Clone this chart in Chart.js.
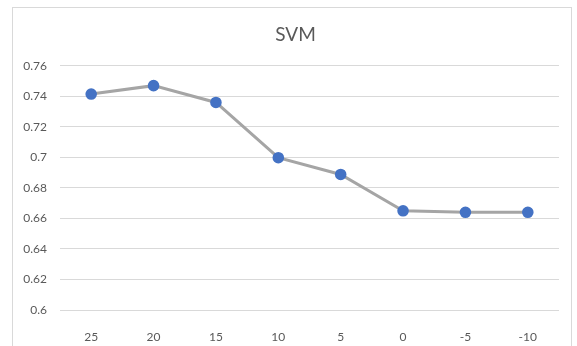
<!DOCTYPE html>
<html>
<head>
<meta charset="utf-8">
<script src="https://cdn.jsdelivr.net/npm/chart.js@4.4.1/dist/chart.umd.min.js"></script>
<style>
  html, body { margin: 0; padding: 0; background: #fff; }
  #wrap { position: relative; width: 577px; height: 346px; }
  #frame { position: absolute; left: 12px; top: 7px; width: 560px; height: 345px; border: 1px solid #d9d9d9; box-sizing: border-box; pointer-events: none; }
  canvas { position: absolute; left: 0; top: 0; }
</style>
</head>
<body>
<div id="wrap">
  <canvas id="c" width="577" height="346"></canvas>
  <div id="frame"></div>
</div>
<script>
// SNR levels and SVM accuracy at each level
const categories = ['25', '20', '15', '10', '5', '0', '-5', '-10'];
const accuracy = [0.7415, 0.747, 0.736, 0.6998, 0.6888, 0.665, 0.664, 0.664];
const yTicks = [0.6, 0.62, 0.64, 0.66, 0.68, 0.7, 0.72, 0.74, 0.76];

const FONT = 'Lato, "Liberation Sans", sans-serif';
const TEXT = '#595959';

// centre the title over the frame rather than the padded canvas
const titleShift = {
  id: 'titleShift',
  afterLayout(chart) {
    const t = chart.titleBlock;
    if (t) { t.left += 10; t.right += 10; }
  }
};

new Chart(document.getElementById('c'), {
  type: 'line',
  data: {
    labels: categories,
    datasets: [{
      label: 'SVM',
      data: accuracy,
      borderColor: '#a5a5a5',
      borderWidth: 3,
      pointBackgroundColor: '#4472c4',
      pointBorderColor: '#4472c4',
      pointRadius: 4.3,
      tension: 0
    }]
  },
  plugins: [titleShift],
  options: {
    responsive: false,
    animation: false,
    layout: { padding: { left: 12, right: 18, top: 12, bottom: 0 } },
    plugins: {
      legend: { display: false },
      tooltip: { enabled: false },
      title: {
        display: true,
        text: 'SVM',
        color: TEXT,
        font: { family: FONT, size: 19, weight: 'normal' },
        padding: { top: 11, bottom: 20 }
      }
    },
    scales: {
      x: {
        offset: true,
        grid: { display: false },
        border: { display: false },
        ticks: { color: TEXT, font: { family: FONT, size: 12 }, padding: 12 },
        afterFit: s => { s.height = 36; }
      },
      y: {
        min: 0.6,
        max: 0.76,
        afterBuildTicks: s => { s.ticks = yTicks.map(v => ({ value: v })); },
        grid: { color: '#d9d9d9', lineWidth: 1, drawTicks: false },
        border: { display: false },
        ticks: {
          color: TEXT,
          font: { family: FONT, size: 12 },
          padding: 13,
          callback: v => String(Math.round(v * 100) / 100)
        },
        afterFit: s => { s.width = 48; }
      }
    }
  }
});
</script>
</body>
</html>
